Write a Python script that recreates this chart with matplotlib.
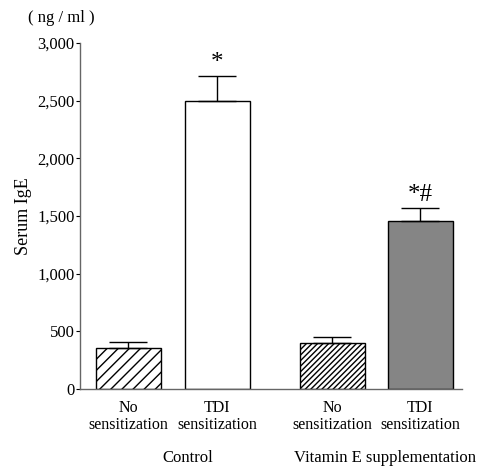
import matplotlib.pyplot as plt
import numpy as np

plt.rcParams['font.family'] = ['Liberation Serif', 'DejaVu Serif']

# data
categories = ['No\nsensitization', 'TDI\nsensitization', 'No\nsensitization', 'TDI\nsensitization']
groups = ['Control', 'Vitamin E supplementation']
means = [356, 2500, 399, 1457]
errors = [52, 215, 52, 113]
marks = ['', '*', '', '*#']

pos = np.array([0, 1, 2.29, 3.28])

fig = plt.figure(figsize=(4.8, 4.67), dpi=100)
ax = fig.add_axes([0.167, 0.167, 0.796, 0.741])

faces = ['white', 'white', 'white', '#858585']
hatches = ['///', None, '//////', None]
for i in range(4):
    ax.bar(pos[i], means[i], width=0.73, color=faces[i], edgecolor='black',
           linewidth=1.0, hatch=hatches[i], zorder=2)
    ax.errorbar(pos[i], means[i], yerr=[[0], [errors[i]]], fmt='none',
                ecolor='black', elinewidth=1.0, capsize=14, capthick=1.0, zorder=3)
    if marks[i]:
        ax.text(pos[i], means[i] + errors[i] + 20, marks[i], ha='center', va='bottom',
                fontsize=18)

ax.set_xlim(-0.54, 3.75)
ax.set_ylim(0, 3000)
ax.set_yticks([0, 500, 1000, 1500, 2000, 2500, 3000])
ax.set_yticklabels(['0', '500', '1,000', '1,500', '2,000', '2,500', '3,000'], fontsize=12)
ax.set_xticks(pos)
ax.set_xticklabels(categories, fontsize=11.5, linespacing=1.05)
ax.tick_params(axis='x', length=0, pad=8)
ax.tick_params(axis='y', length=3, width=0.8, direction='out', pad=1, colors='black')
for s in ['top', 'right']:
    ax.spines[s].set_visible(False)
for s in ['left', 'bottom']:
    ax.spines[s].set_color('#666666')
    ax.spines[s].set_linewidth(1.0)

ax.set_ylabel('Serum IgE', fontsize=13, labelpad=4)
fig.text(28 / 480, 1 - 18 / 467, '( ng / ml )', fontsize=12, ha='left', va='center')

fig.text(188 / 480, 1 - 458 / 467, groups[0], fontsize=12, ha='center', va='center')
fig.text(385 / 480, 1 - 458 / 467, groups[1], fontsize=12, ha='center', va='center')

fig.savefig('out.png', dpi=100)
